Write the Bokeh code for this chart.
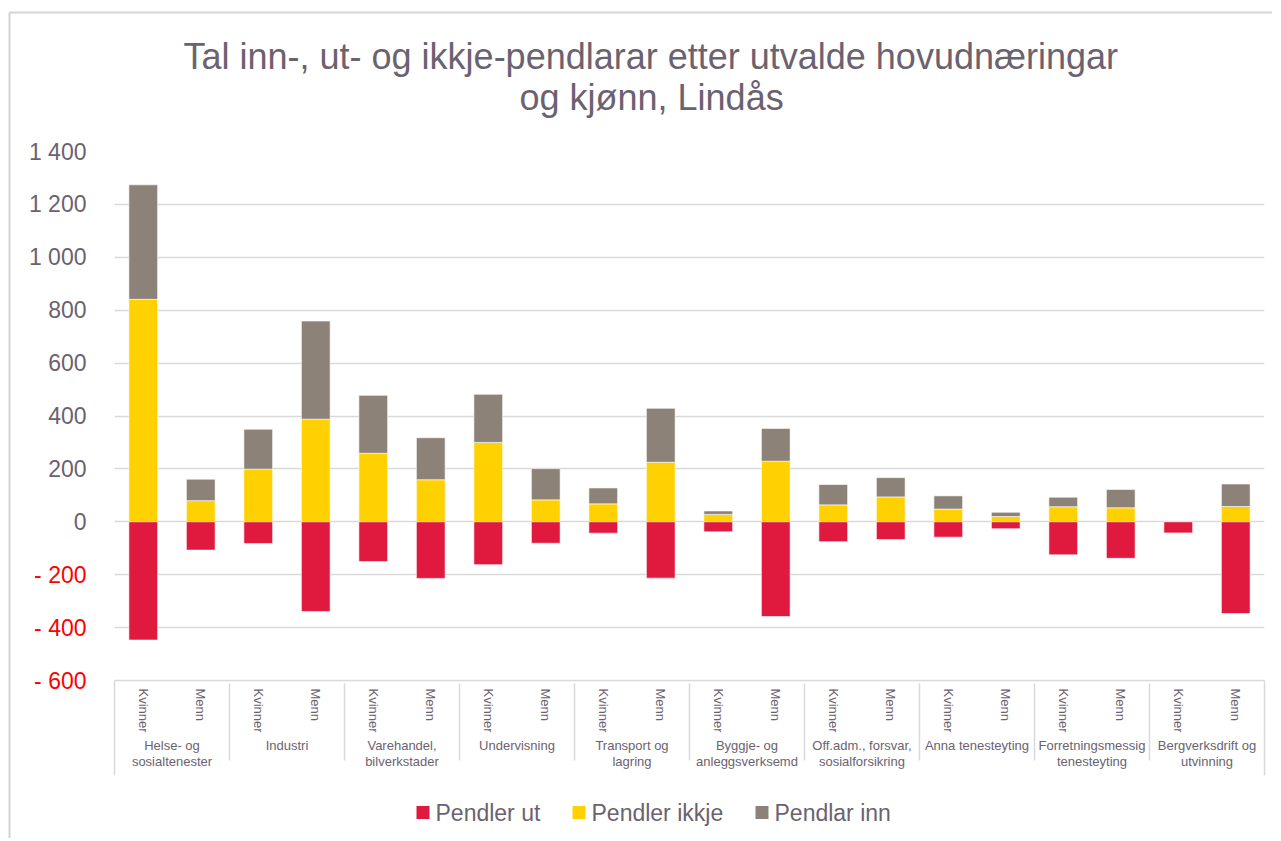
from bokeh.plotting import figure
from bokeh.models import (FactorRange, Title, FixedTicker, ColumnDataSource)
from bokeh.core.properties import value
from bokeh.embed import file_html
from bokeh.resources import INLINE

# ---------------- data ----------------
groups = ["Helse- og\nsosialtenester", "Industri", "Varehandel,\nbilverkstader",
          "Undervisning", "Transport og\nlagring", "Byggje- og\nanleggsverksemd",
          "Off.adm., forsvar,\nsosialforsikring", "Anna tenesteyting",
          "Forretningsmessig\ntenesteyting", "Bergverksdrift og\nutvinning"]
sexes = ["Kvinner", "Menn"]

# order: group1 Kvinner, group1 Menn, group2 Kvinner, ...
pendler_ut = [-447, -107, -82, -339, -150, -214, -162, -81, -43, -213,
              -38, -358, -75, -67, -58, -26, -125, -138, -42, -347]
pendler_ikkje = [841, 80, 199, 388, 259, 159, 300, 83, 68, 225,
                 28, 229, 64, 94, 48, 20, 57, 53, 0, 58]
pendlar_inn = [433, 81, 151, 371, 219, 159, 182, 118, 60, 204,
               13, 124, 77, 73, 50, 16, 36, 69, 0, 85]

series_names = ["Pendler ut", "Pendler ikkje", "Pendlar inn"]
y_ticks = [-600, -400, -200, 0, 200, 400, 600, 800, 1000, 1200, 1400]
y_tick_labels = ["- 600", "- 400", "- 200", "0", "200", "400", "600", "800",
                 "1 000", "1 200", "1 400"]
title_line1 = "Tal inn-, ut- og ikkje-pendlarar etter utvalde hovudnæringar"
title_line2 = "og kjønn, Lindås"

# ---------------- style ----------------
RED = "#E0193F"
YELLOW = "#FFD100"
GRAY = "#8C8278"
SERIES_COLORS = [RED, YELLOW, GRAY]
TEXT = "#6B6270"
GRID = "#D9D9D9"
FONT = "Liberation Sans"
FRAME_W, FRAME_H = 1150, 529
FRAME_LEFT_PX, FRAME_BOTTOM_PX = 115, 681
LEGEND_SQUARE_LEFT_PX = [417, 573, 756]
LEGEND_Y_PX = 813

factors = [(g, s) for g in groups for s in sexes]
n_cat = len(factors)
px_per_cat = FRAME_W / n_cat
units_per_px = (y_ticks[-1] - y_ticks[0]) / FRAME_H

source = ColumnDataSource(dict(x=factors, ut=pendler_ut, ikkje=pendler_ikkje,
                               inn=pendlar_inn))

p = figure(x_range=FactorRange(*factors, factor_padding=0, group_padding=0,
                               range_padding=0),
           y_range=(y_ticks[0], y_ticks[-1]),
           frame_width=FRAME_W, frame_height=FRAME_H,
           min_border_left=114, min_border_right=8, min_border_top=151,
           min_border_bottom=158,
           output_backend="svg", toolbar_location=None,
           title=title_line1)

stack = p.vbar_stack(["ikkje", "inn"], x="x", width=0.5, source=source,
                     color=[YELLOW, GRAY], line_color="white", line_width=0.6)
r_ut = p.vbar(x="x", top="ut", bottom=0, width=0.5, source=source,
              fill_color=RED, line_color="white", line_width=0.6)

# titles (line 1 on top, line 2 next to the plot)
p.title.text_font = FONT
p.title.text_font_size = "36px"
p.title.text_font_style = "normal"
p.title.text_color = TEXT
p.title.align = "left"
p.title.offset = 69
p.title.standoff = -71
t2 = Title(text=title_line2, text_font=FONT, text_font_size="36px",
           text_font_style="normal", text_color=TEXT, align="left",
           offset=405, standoff=67)
p.add_layout(t2, "above")

# axes
xa = p.xaxis[0]
xa.major_label_orientation = "vertical"
xa.major_label_text_font = FONT
xa.major_label_text_font_size = "13px"
xa.major_label_text_color = TEXT
xa.major_label_standoff = 2
xa.group_text_font = FONT
xa.group_text_font_size = "13px"
xa.group_text_font_style = "normal"
xa.group_text_color = TEXT
xa.group_text_line_height = 1.1
xa.major_tick_line_color = None
xa.axis_line_color = GRID
xa.axis_line_width = 1.5
xa.separator_line_color = GRID
xa.separator_line_width = 1.5

ya = p.yaxis[0]
ya.ticker = FixedTicker(ticks=y_ticks)
ya.major_label_overrides = {t: (lab if t >= 0 else "")
                            for t, lab in zip(y_ticks, y_tick_labels)}
ya.major_label_text_font = FONT
ya.major_label_text_font_size = "23px"
ya.major_label_text_color = TEXT
ya.major_label_standoff = 28
ya.major_tick_out = 0
ya.major_tick_in = 0
ya.minor_tick_line_color = None
ya.axis_line_color = None

# negative tick labels in red (unclipped text glyph at the axis position)
neg_ticks = [t for t in y_ticks if t < 0]
neg_labels = [lab for t, lab in zip(y_ticks, y_tick_labels) if t < 0]
p.text(x=[0] * len(neg_ticks), y=neg_ticks, text=neg_labels, x_offset=-28,
       text_align="right", text_baseline="middle", text_color="#FF0000",
       text_font=value(FONT), text_font_size="23px", level="overlay")

# outer edges of the category-axis box and the chart-area border
axis_box_bottom = y_ticks[0] - 95 * units_per_px
p.segment(x0=[0, n_cat], y0=[y_ticks[0]] * 2, x1=[0, n_cat],
          y1=[axis_box_bottom] * 2, line_color=GRID, line_width=1.5,
          level="overlay")
chart_left = -105 / px_per_cat
chart_top = y_ticks[-1] + 139 * units_per_px
chart_bottom = y_ticks[0] - 175 * units_per_px
chart_right = n_cat + 20 / px_per_cat
p.segment(x0=[chart_left, chart_left], y0=[chart_top, chart_top],
          x1=[chart_right, chart_left], y1=[chart_top, chart_bottom],
          line_color="#D4D4D4", line_width=2, level="overlay")

p.xgrid.grid_line_color = None
p.ygrid.grid_line_color = GRID
p.ygrid.grid_line_width = 1.5
p.outline_line_color = None

# legend below the category axis (drawn unclipped, beneath the plot area)
leg_x = [(px + 6.5 - FRAME_LEFT_PX) / px_per_cat for px in LEGEND_SQUARE_LEFT_PX]
leg_y = y_ticks[0] - (LEGEND_Y_PX - FRAME_BOTTOM_PX) * units_per_px
p.rect(x=leg_x, y=[leg_y] * 3, width=13, height=13, width_units="screen",
       height_units="screen", fill_color=SERIES_COLORS, line_color=None,
       level="overlay")
p.text(x=leg_x, y=[leg_y] * 3, text=series_names, x_offset=12.5,
       text_align="left", text_baseline="middle", text_color=TEXT,
       text_font=value(FONT), text_font_size="23px", level="overlay")

open("out.html", "w").write(file_html(p, INLINE))
